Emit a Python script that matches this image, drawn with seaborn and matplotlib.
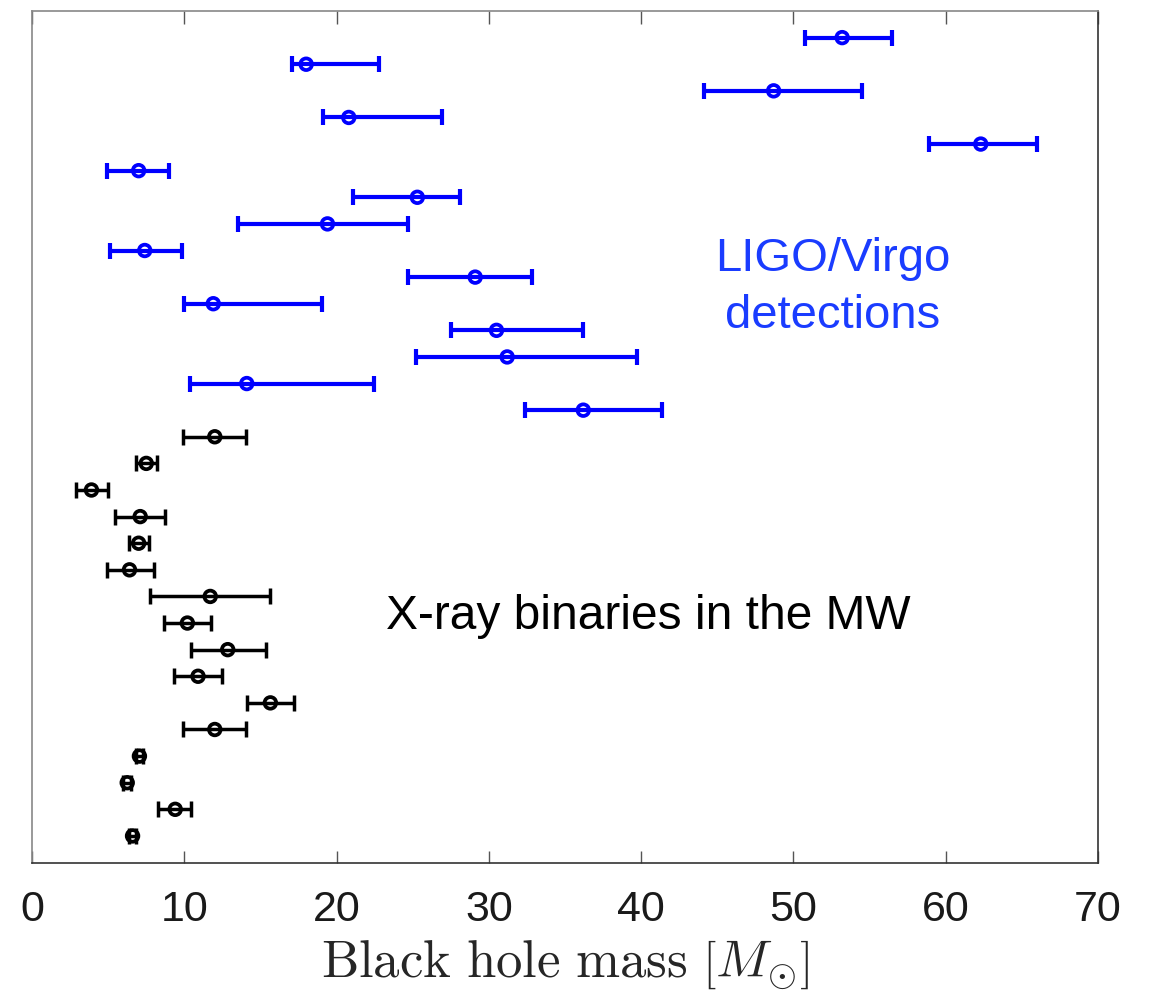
import numpy as np
import pandas as pd
import matplotlib
matplotlib.use("Agg")
import matplotlib.pyplot as plt
import seaborn as sns

# Gravitational-wave detections (median mass with 90% interval), listed top to bottom
ligo_mass = [53.2, 18.0, 48.7, 20.8, 62.3, 7.0, 25.3, 19.4, 7.4, 29.1, 11.9, 30.5, 31.2, 14.1, 36.2]
ligo_low = [50.75, 17.1, 44.1, 19.1, 58.9, 4.9, 21.1, 13.5, 5.1, 24.7, 9.95, 27.5, 25.2, 10.4, 32.4]
ligo_high = [56.5, 22.8, 54.5, 26.9, 66.0, 9.0, 28.1, 24.7, 9.85, 32.8, 19.05, 36.2, 39.7, 22.45, 41.4]

# Galactic X-ray binaries (dynamical mass estimates), listed top to bottom
xrb_mass = [12.0, 7.5, 3.9, 7.1, 7.0, 6.4, 11.7, 10.2, 12.85, 10.9, 15.65, 12.0, 7.05, 6.25, 9.4, 6.6]
xrb_low = [9.9, 6.8, 2.9, 5.45, 6.35, 4.9, 7.75, 8.65, 10.45, 9.3, 14.1, 9.9, 6.8, 6.0, 8.3, 6.35]
xrb_high = [14.05, 8.2, 5.0, 8.75, 7.65, 8.0, 15.65, 11.75, 15.35, 12.45, 17.2, 14.05, 7.3, 6.5, 10.45, 6.85]

x_ticks = [0, 10, 20, 30, 40, 50, 60, 70]

n_xrb = len(xrb_mass)
n_ligo = len(ligo_mass)
xrb = pd.DataFrame({
    "mass": xrb_mass, "low": xrb_low, "high": xrb_high,
    "row": np.arange(n_xrb, 0, -1),
})
ligo = pd.DataFrame({
    "mass": ligo_mass, "low": ligo_low, "high": ligo_high,
    "row": np.arange(n_xrb + n_ligo, n_xrb, -1),
})

sns.set_theme(style="white")
plt.rcParams["font.family"] = ["Liberation Sans", "DejaVu Sans"]
plt.rcParams["mathtext.fontset"] = "cm"

fig = plt.figure(figsize=(11.49, 9.92), dpi=100)
ax = fig.add_axes([0.0279, 0.1305, 0.9277, 0.8584])

blue = "#0000ff"
for df, col, lw in [(ligo, blue, 3.0), (xrb, "black", 2.5)]:
    err = np.vstack([df["mass"] - df["low"], df["high"] - df["mass"]])
    ax.errorbar(df["mass"], df["row"], xerr=err, fmt="none", ecolor=col,
                elinewidth=lw, capsize=5.5, capthick=lw, zorder=2)
    sns.scatterplot(data=df, x="mass", y="row", ax=ax, marker="o", s=70,
                    facecolor="none", edgecolor=col, linewidth=2.7, zorder=3)

ax.text(52.6, 21.6, "LIGO/Virgo\ndetections", color="#1a3cff", fontsize=34,
        ha="center", va="center", linespacing=1.38)
ax.text(40.5, 9.25, "X-ray binaries in the MW", color="black", fontsize=34.5,
        ha="center", va="center")

ax.set_xlim(0, 70)
ax.set_ylim(0, 32)
ax.set_xticks(x_ticks)
ax.set_xticklabels([str(t) for t in x_ticks])
ax.set_yticks([])
ax.set_ylabel("")
ax.set_xlabel(r"$\mathrm{Black\ hole\ mass}\ \left[M_{\odot}\right]$", fontsize=38, labelpad=6)
ax.tick_params(axis="x", which="both", direction="in", length=9, width=1,
               color="#555555", top=True, bottom=True, labelsize=31, pad=20,
               labelcolor="#1a1a1a")
for name, sp in ax.spines.items():
    sp.set_visible(True)
    sp.set_linewidth(1.2)
    sp.set_color("#333333" if name in ("bottom", "right") else "#888888")

fig.savefig("out.png", dpi=100)
